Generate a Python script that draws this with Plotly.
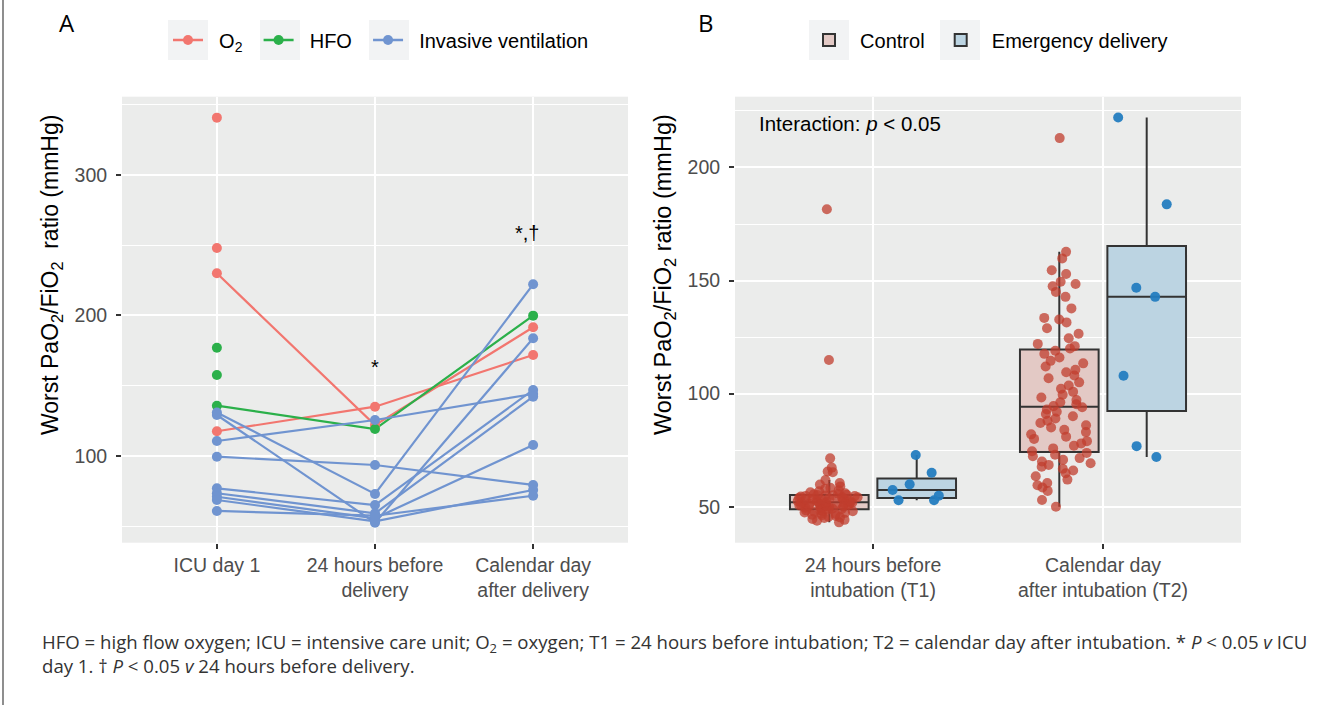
import plotly.graph_objects as go

# ---------------- Panel A data ----------------
timepoints = ["ICU day 1", "24 hours before<br>delivery", "Calendar day<br>after delivery"]
tp_index = [1, 2, 3]

o2_subjects = [
    [340.8, None, None],
    [248.0, None, None],
    [230.0, 122.0, 191.6],
    [117.6, 135.1, 171.9],
]
hfo_subjects = [
    [177.0, None, None],
    [157.7, None, None],
    [135.8, 119.2, 199.9],
]
inv_subjects = [
    [110.7, 125.6, 144.1],
    [99.5, 93.6, 79.4],
    [131.0, 73.0, 222.2],
    [129.2, 52.5, 183.8],
    [77.0, 65.1, 147.0],
    [73.5, 59.2, 142.2],
    [71.0, 55.7, 107.8],
    [68.7, 53.5, 75.8],
    [60.9, 57.5, 71.7],
]
groups_a = ["O<sub>2</sub>", "HFO", "Invasive ventilation"]
colors_a = ["#F2766F", "#2BB04A", "#7094D0"]

sig_labels = ["*", "*,†"]
sig_x = [2, 2.96]
sig_y = [163, 259]

# ---------------- Panel B data ----------------
times_b = ["24 hours before<br>intubation (T1)", "Calendar day<br>after intubation (T2)"]

control_t1 = [181.5, 114.9, 71.4, 67.3, 65.6, 65.3,
              61.8, 60.5, 59.8, 59.0, 58.4, 57.9, 57.3, 56.8, 56.4, 56.0, 55.7, 55.5, 55.3, 55.2,
              43.1, 43.8, 44.2, 44.6, 45.0, 45.3, 45.6, 45.9, 46.2, 46.5, 46.8, 47.0, 47.3, 47.5,
              47.8, 48.0, 48.2, 48.4, 48.6, 48.8,
              49.0, 49.2, 49.4, 49.6, 49.8, 50.0, 50.1, 50.3, 50.5, 50.6, 50.8, 50.9, 51.0, 51.2,
              51.3, 51.4, 51.5, 51.6, 51.8, 51.9,
              52.0, 52.2, 52.3, 52.5, 52.7, 52.8, 53.0, 53.2, 53.3, 53.5, 53.7, 53.8, 54.0, 54.2,
              54.3, 54.5, 54.7, 54.8, 55.0, 55.1]
control_t2 = [213.0, 162.7, 159.8, 154.6, 152.9, 149.5, 148.5, 147.5, 145.0, 142.8, 137.7,
              133.5, 132.8, 131.5, 128.9, 126.5, 124.5, 122.0, 121.0, 120.0,
              119.0, 117.6, 116.0, 114.5, 113.4, 112.0, 110.6, 109.5, 108.0, 106.8, 105.0, 103.6,
              102.2, 100.8, 99.5, 98.3, 97.2, 96.2, 95.3, 94.5,
              94.0, 93.0, 92.0, 91.0, 90.0, 89.0, 88.0, 87.0, 86.0, 85.0, 84.0, 83.0, 82.0, 81.0,
              80.0, 79.0, 78.0, 77.0, 75.8, 74.5,
              73.8, 73.0, 72.3, 71.5, 70.8, 70.0, 69.2, 68.5, 67.7, 66.8, 66.0, 64.8, 63.5, 62.0,
              60.5, 59.5, 58.5, 57.0, 53.0, 50.0]
emergency_t1 = [54.9, 52.9, 52.9, 57.4, 65.0, 59.9, 72.9]
emergency_t2 = [222.1, 183.7, 146.8, 142.8, 107.9, 76.8, 72.0]

groups_b = ["Control", "Emergency delivery"]
fill_b = ["#E3C9C5", "#BCD4E2"]
point_b = ["rgba(192,62,45,0.75)", "rgba(36,125,192,0.95)"]

footnote = ("HFO = high flow oxygen; ICU = intensive care unit; O<sub>2</sub> = oxygen; T1 = 24 hours before "
            "intubation; T2 = calendar day after intubation. * <i>P</i> &lt; 0.05 <i>v</i> ICU<br>"
            "day 1. † <i>P</i> &lt; 0.05 <i>v</i> 24 hours before delivery.")

# ---------------- figure ----------------
W, H = 1330, 705
def px(x):
    return x / W
def py(y):
    return 1 - y / H

FONT = "Liberation Sans, Arial, sans-serif"
NB = "\u00a0\u00a0"
fig = go.Figure()

all_groups = [o2_subjects, hfo_subjects, inv_subjects]

# lines first
for gname, subjects, col in zip(groups_a, all_groups, colors_a):
    xs, ys = [], []
    for s in subjects:
        for xi, v in zip(tp_index, s):
            xs.append(xi if v is not None else None)
            ys.append(v)
        xs.append(None)
        ys.append(None)
    fig.add_trace(go.Scatter(x=xs, y=ys, mode="lines", line=dict(color=col, width=2.2),
                             connectgaps=False, showlegend=False, hoverinfo="skip",
                             xaxis="x", yaxis="y", legendgroup=gname))
# points on top
for gname, subjects, col in zip(groups_a, all_groups, colors_a):
    xs, ys = [], []
    for s in subjects:
        for xi, v in zip(tp_index, s):
            if v is not None:
                xs.append(xi)
                ys.append(v)
    fig.add_trace(go.Scatter(x=xs, y=ys, mode="markers", marker=dict(color=col, size=10),
                             showlegend=False, xaxis="x", yaxis="y", legendgroup=gname))
# legend entries
for gname, col in zip(groups_a, colors_a):
    fig.add_trace(go.Scatter(x=[None], y=[None], mode="lines+markers", name=NB + gname + NB,
                             line=dict(color=col, width=2.4), marker=dict(color=col, size=10),
                             xaxis="x", yaxis="y", legend="legend", legendgroup=gname))

# panel B boxes
for gname, t1, t2, fc, pc in zip(groups_b, [control_t1, emergency_t1], [control_t2, emergency_t2],
                                 fill_b, point_b):
    fig.add_trace(go.Box(
        x=[times_b[0]] * len(t1) + [times_b[1]] * len(t2),
        y=t1 + t2, name=NB + gname + NB, boxpoints="all", jitter=0.85, pointpos=0,
        quartilemethod="inclusive", whiskerwidth=0,
        fillcolor=fc, line=dict(color="#333333", width=2),
        marker=dict(color=pc, size=10, line=dict(width=0)),
        xaxis="x2", yaxis="y2", legend="legend2", hoverinfo="y"))

ydom = [py(542.7), py(96.7)]
axis_common = dict(showgrid=True, gridcolor="white", gridwidth=2.2, zeroline=False,
                   ticks="outside", ticklen=5, tickwidth=1.6, tickcolor="#333333",
                   tickfont=dict(family=FONT, size=19.5, color="#4D4D4D"), showline=False)

fig.update_layout(
    width=W, height=H, margin=dict(l=0, r=0, t=0, b=0),
    paper_bgcolor="white", plot_bgcolor="#EBECEB",
    font=dict(family=FONT, color="black"),
    boxmode="group", boxgap=0.24, boxgroupgap=0.1,
    xaxis=dict(domain=[px(122), px(628)], range=[0.4, 3.6], tickvals=tp_index, ticktext=timepoints,
               **axis_common),
    yaxis=dict(domain=ydom, range=[38.3, 355.7], tickvals=[100, 200, 300], ticklabelstandoff=5,
               minor=dict(tickvals=[50, 150, 250, 350], showgrid=True, gridcolor="white", gridwidth=1.1,
                          ticks=""),
               **axis_common),
    xaxis2=dict(domain=[px(735), px(1241)], range=[-0.6, 1.6], type="category", anchor="y2",
                **axis_common),
    yaxis2=dict(domain=ydom, range=[34.1, 231.3], tickvals=[50, 100, 150, 200], anchor="x2",
                ticklabelstandoff=5,
                minor=dict(tickvals=[75, 125, 175, 225], showgrid=True, gridcolor="white", gridwidth=1.1,
                           ticks=""),
                **axis_common),
    legend=dict(orientation="h", x=px(168), xanchor="left", y=py(40), yanchor="middle",
                font=dict(family=FONT, size=20, color="black"), bgcolor="rgba(0,0,0,0)",
                itemwidth=30, borderwidth=0),
    legend2=dict(orientation="h", x=px(809), xanchor="left", y=py(40), yanchor="middle",
                 font=dict(family=FONT, size=20, color="black"), bgcolor="rgba(0,0,0,0)",
                 itemwidth=30, borderwidth=0),
)

# grey legend key backgrounds
for x0 in [168, 260, 369, 809, 940]:
    fig.add_shape(type="rect", xref="paper", yref="paper", x0=px(x0), x1=px(x0 + 40),
                  y0=py(60), y1=py(20), fillcolor="#F2F3F4", line=dict(width=0), layer="below")

ann = []
ann.append(dict(text="A", x=px(67), y=py(22), xref="paper", yref="paper", showarrow=False,
                xanchor="center", yanchor="middle",
                font=dict(family="Open Sans, sans-serif", size=24, color="black")))
ann.append(dict(text="B", x=px(706), y=py(22), xref="paper", yref="paper", showarrow=False,
                xanchor="center", yanchor="middle",
                font=dict(family="Open Sans, sans-serif", size=24, color="black")))
ytitle = "Worst PaO<sub>2</sub>/FiO<sub>2</sub>  ratio (mmHg)"
ann.append(dict(text=ytitle, x=px(51), y=py(275), xref="paper", yref="paper", showarrow=False,
                xanchor="center", yanchor="middle",
                textangle=-90, font=dict(family=FONT, size=23, color="black")))
ann.append(dict(text=ytitle.replace("  ", " "), x=px(664), y=py(275), xref="paper", yref="paper",
                xanchor="center", yanchor="middle",
                showarrow=False, textangle=-90, font=dict(family=FONT, size=23.5, color="black")))
for lab, sx, sy in zip(sig_labels, sig_x, sig_y):
    ann.append(dict(text=lab, x=sx, y=sy, xref="x", yref="y", showarrow=False,
                    xanchor="center", yanchor="middle",
                    font=dict(family=FONT, size=20, color="black")))
ann.append(dict(text="Interaction: <i>p</i> &lt; 0.05", x=px(757), y=py(123), xref="paper", yref="paper",
                xanchor="left", yanchor="middle", showarrow=False,
                font=dict(family=FONT, size=20.5, color="black")))
ann.append(dict(text=footnote, x=px(40), y=py(653), xref="paper", yref="paper", xanchor="left",
                yanchor="middle", align="left", showarrow=False,
                font=dict(family="Open Sans, sans-serif", size=18.6, color="#333333")))
fig.update_layout(annotations=ann)

fig.add_shape(type="line", xref="paper", yref="paper", x0=px(3), x1=px(3), y0=0, y1=1,
              line=dict(color="#444444", width=1.2))

fig.write_html("out.html", config={"displayModeBar": False},
               post_script="document.body.style.margin='0';document.body.style.overflow='hidden';")
